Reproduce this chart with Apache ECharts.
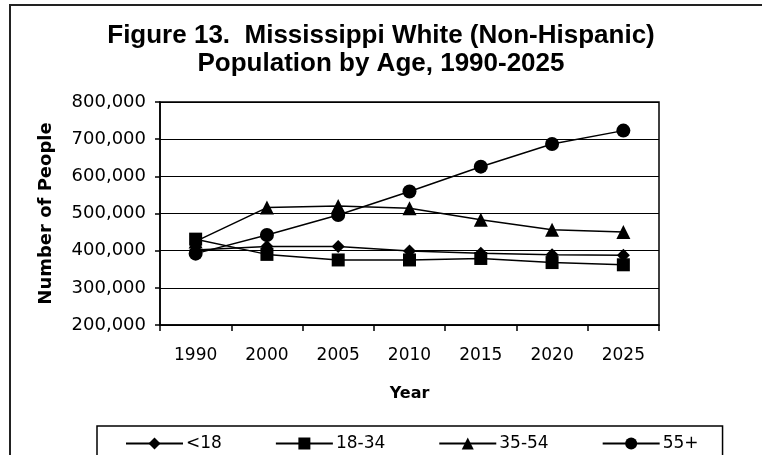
<!DOCTYPE html>
<html><head><meta charset="utf-8">
<script src="https://cdn.jsdelivr.net/npm/echarts@6/dist/echarts.min.js"></script>
<style>html,body{margin:0;padding:0;background:#fff}#c{width:762px;height:455px}</style>
</head><body><div id="c"></div>
<script>
var categories = ['1990','2000','2005','2010','2015','2020','2025'];
var under18 = [402000, 411000, 411000, 399000, 393000, 389000, 388000];
var age18to34 = [431000, 390000, 375000, 375000, 379000, 368000, 362000];
var age35to54 = [425000, 516000, 520000, 514000, 483000, 456000, 450000];
var age55plus = [392000, 442000, 496000, 559000, 626000, 687000, 723000];
var seriesNames = ['<18', '18-34', '35-54', '55+'];
var yTicks = {min: 200000, max: 800000, interval: 100000};

var chart = echarts.init(document.getElementById('c'), null, {renderer: 'canvas'});
function fmt(v){ return v.toString().replace(/\B(?=(\d{3})+(?!\d))/g, ','); }
function mk(name, data, symbol, size){
  return {name: name, type: 'line', data: data, symbol: symbol, symbolSize: size,
    lineStyle: {color: '#000', width: 1.5}, itemStyle: {color: '#000'},
    emphasis: {disabled: true}, animation: false};
}
chart.setOption({
  backgroundColor: '#fff',
  animation: false,
  title: {
    text: 'Figure 13.  Mississippi White (Non-Hispanic)\nPopulation by Age, 1990-2025',
    left: 'center', top: 17,
    textStyle: {fontFamily: 'Liberation Sans', fontWeight: 'bold', fontSize: 26, lineHeight: 28, color: '#000'}
  },
  graphic: [{type: 'rect', shape: {x: 10, y: 5, width: 800, height: 500},
    style: {fill: 'none', stroke: '#222', lineWidth: 2}, silent: true}],
  grid: {left: 160, right: 103, top: 102, height: 223, show: true, borderColor: '#000', borderWidth: 1.5, backgroundColor: '#fff'},
  legend: {
    data: seriesNames, left: 97, top: 426,
    padding: [9, 24, 20, 28], itemGap: 53, itemWidth: 57, itemHeight: 15,
    borderColor: '#000', borderWidth: 1.5,
    textStyle: {fontFamily: 'DejaVu Sans', fontSize: 17, color: '#000', padding: [0,0,0,-2]}
  },
  xAxis: {
    type: 'category', data: categories, boundaryGap: true,
    axisLine: {lineStyle: {color: '#000', width: 1.5}},
    axisTick: {show: true, length: 6, lineStyle: {color: '#000', width: 1.5}},
    axisLabel: {margin: 22, fontFamily: 'DejaVu Sans', fontSize: 17, color: '#000'},
    name: 'Year', nameLocation: 'middle', nameGap: 61,
    nameTextStyle: {fontFamily: 'DejaVu Sans', fontWeight: 'bold', fontSize: 16, color: '#000'}
  },
  yAxis: {
    type: 'value', min: yTicks.min, max: yTicks.max, interval: yTicks.interval,
    axisLine: {show: true, lineStyle: {color: '#000', width: 1.5}},
    axisTick: {show: true, length: 5, lineStyle: {color: '#000', width: 1.5}},
    splitLine: {show: true, lineStyle: {color: '#000', width: 1.2}},
    axisLabel: {margin: 14, fontFamily: 'DejaVu Sans', fontSize: 18, color: '#000', formatter: fmt},
    name: 'Number of People', nameLocation: 'middle', nameGap: 105, nameRotate: 90,
    nameTextStyle: {fontFamily: 'DejaVu Sans', fontWeight: 'bold', fontSize: 18, color: '#000'}
  },
  series: [
    mk(seriesNames[0], under18, 'diamond', 13),
    mk(seriesNames[1], age18to34, 'rect', 13),
    mk(seriesNames[2], age35to54, 'triangle', 14),
    mk(seriesNames[3], age55plus, 'circle', 14)
  ]
});
</script></body></html>
